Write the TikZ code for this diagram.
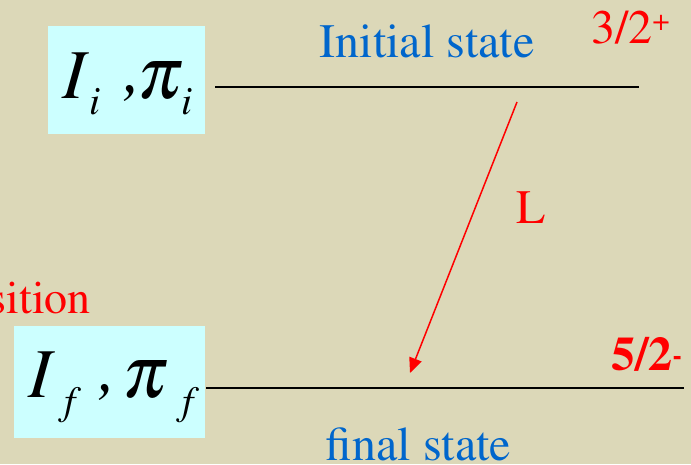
\documentclass[tikz,border=0pt]{standalone}
\usepackage[T1]{fontenc}
\usepackage{mathptmx}
\usetikzlibrary{arrows.meta}
\definecolor{bg}{RGB}{220,216,184}
\definecolor{boxcyan}{RGB}{204,255,255}
\definecolor{stateblue}{RGB}{0,102,204}
\definecolor{tred}{RGB}{255,0,0}
\newcommand{\fs}[1]{\fontsize{#1}{#1}\selectfont}
\begin{document}
\begin{tikzpicture}[x=1pt,y=-1pt,
  qbox/.style={fill=boxcyan, draw=none, inner sep=0pt, anchor=north west},
  level/.style={line width=2pt, black},
  txt/.style={inner sep=0pt, font=\fs{48}},
  mathlab/.style={inner sep=0pt, anchor=base west, text=black},
  trans/.style={draw=tred, line width=1.5pt, -{Triangle[length=15pt,width=13pt]}}]
\fill[bg] (0,0) rectangle (691,464);
\useasboundingbox (0,0) rectangle (691,464);

% boxes with quantum numbers
\node[qbox, minimum width=157pt, minimum height=108pt] (boxi) at (48,26) {};
\node[qbox, minimum width=191pt, minimum height=112pt] (boxf) at (14,326) {};

\node[mathlab] (labi) at (62,98) {\fs{70}\itshape
  \rlap{I}\rlap{\hspace{27pt}\raisebox{-16pt}{\fs{40}i}}%
  \rlap{\hspace{62pt}\raisebox{6pt}{,}}%
  \rlap{\hspace{75pt}\fs{74}$\pi$}%
  \hspace{119pt}\raisebox{-16pt}{\fs{40}i}};
\node[mathlab] (labf) at (28,397) {\fs{70}\itshape
  \rlap{I}\rlap{\hspace{36pt}\raisebox{-17pt}{\fs{40}f}}%
  \rlap{\hspace{71pt}\raisebox{6pt}{,}}%
  \rlap{\hspace{94pt}\fs{74}$\pi$}%
  \hspace{154pt}\raisebox{-17pt}{\fs{40}f}};

% levels
\coordinate (ia) at (215,87);
\coordinate (ib) at (639,87);
\coordinate (fa) at (206,388);
\coordinate (fb) at (684,388);
\draw[level] (ia) -- (ib);
\draw[level] (fa) -- (fb);

% transition arrow
\coordinate (as) at (517,102);
\coordinate (ae) at (410,373);
\draw[trans] (as) -- (ae);

% texts
\node[txt, text=stateblue, anchor=base] (init) at (427,57) {Initial state};
\node[txt, text=stateblue, anchor=base] (fin) at (418.5,460) {final state};
\node[txt, text=tred, anchor=base west] (jpi) at (591,43) {3/2\raisebox{12.5pt}{\fs{30}+}};
\node[txt, text=tred, anchor=base west, font=\fs{48}\bfseries] (jpf) at (611,370) {5/2\raisebox{6pt}{\fs{28}-}};
\node[txt, text=tred, anchor=base west] (lab) at (516,223) {L};
\node[txt, text=tred, anchor=base east, font=\fs{46}] (tr) at (91,313) {sition};
\end{tikzpicture}
\end{document}
